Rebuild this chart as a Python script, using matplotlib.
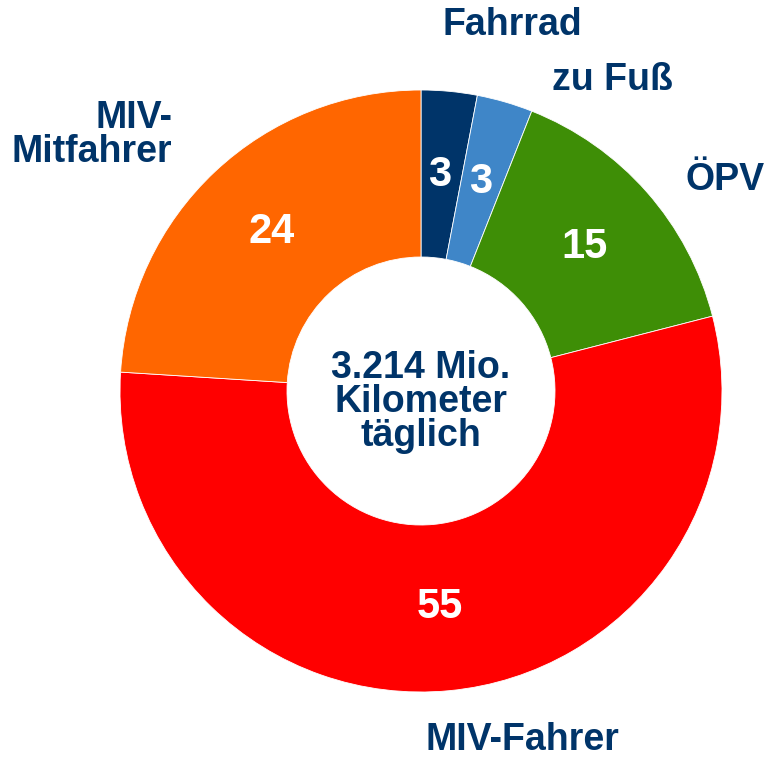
import matplotlib
matplotlib.use('Agg')
import matplotlib.pyplot as plt

plt.rcParams['font.family'] = ['Liberation Sans', 'DejaVu Sans']

# data (Anteile in %)
categories = ['Fahrrad', 'zu Fuß', 'ÖPV', 'MIV-Fahrer', 'MIV-\nMitfahrer']
values = [3, 3, 15, 55, 24]
colors = ['#003469', '#3F86C8', '#3E8E06', '#FF0000', '#FF6600']
center_text = '3.214 Mio.\nKilometer\ntäglich'

# label positions in pixel coords (x, y from top)
name_pos = [(512, 25), (612, 80), (725, 180), (522, 740), (172, 135)]
name_ha = ['center', 'center', 'center', 'center', 'right']
value_pos = [(440, 175), (481, 182), (585, 247), (440, 607), (272, 232)]

W, H = 769, 758
navy = '#003469'

fig = plt.figure(figsize=(W / 100, H / 100), dpi=100)
ax = fig.add_axes([0, 0, 1, 1])

cx, cy, r = 421, 391, 301
ax.pie(values, colors=colors, startangle=90, counterclock=False,
       center=(cx, H - cy), radius=r, frame=True,
       wedgeprops=dict(width=167, edgecolor='white', linewidth=0.6))
ax.set_xlim(0, W)
ax.set_ylim(0, H)
ax.set_aspect('equal')
ax.axis('off')

for name, (x, y), ha in zip(categories, name_pos, name_ha):
    ax.text(x, H - y, name, ha=ha, va='center', fontsize=27,
            fontweight='bold', color=navy, linespacing=0.92)

for v, (x, y) in zip(values, value_pos):
    ax.text(x, H - y, str(v), ha='center', va='center', fontsize=30,
            fontweight='bold', color='white')

ax.text(cx, H - 402, center_text, ha='center', va='center', fontsize=27,
        fontweight='bold', color=navy, linespacing=0.92)

fig.savefig('out.png', dpi=100)
